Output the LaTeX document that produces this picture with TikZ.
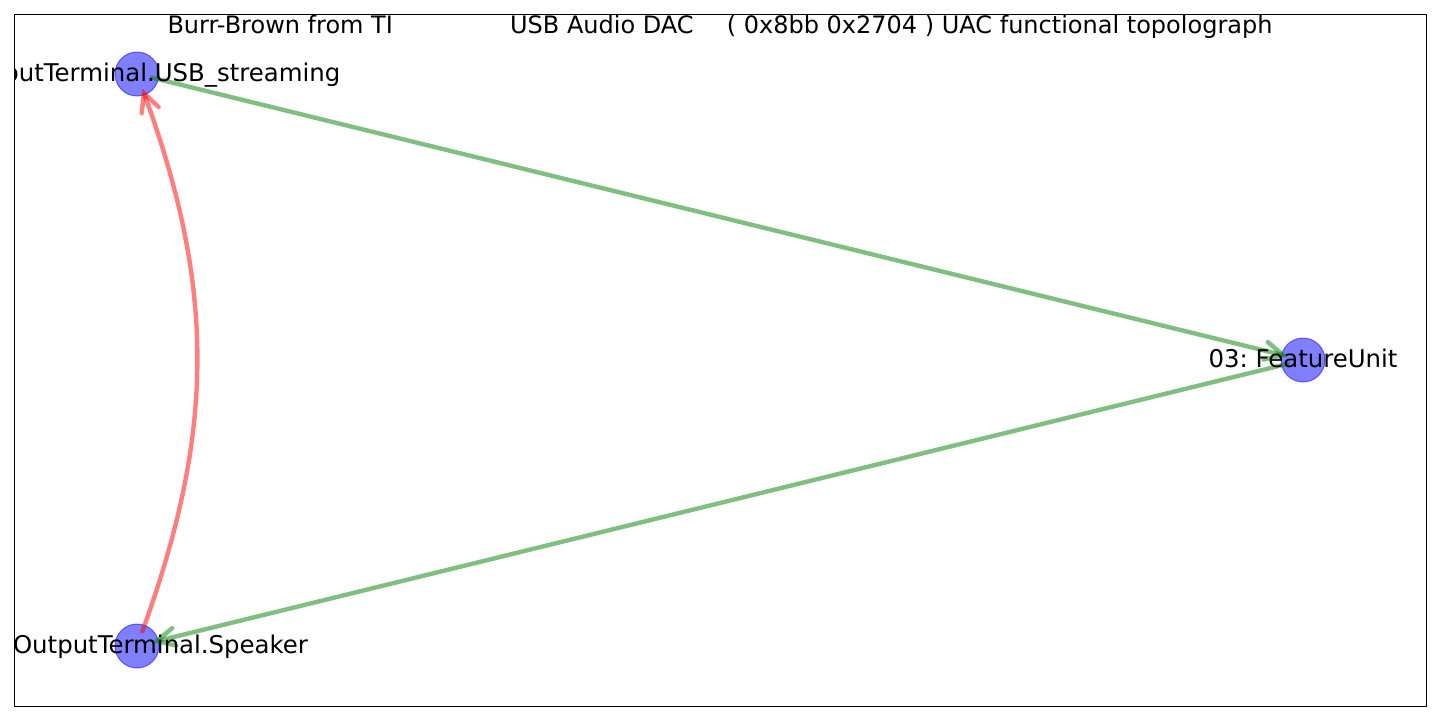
\documentclass[tikz,border=0pt]{standalone}
\usepackage{fontspec}
\setmainfont{DejaVu Sans}
\usetikzlibrary{arrows.meta}
\definecolor{uacblue}{HTML}{0000FF}
\definecolor{uacgreen}{HTML}{008000}
\definecolor{uacred}{HTML}{FF0000}
\frenchspacing
\tikzset{
  unit/.style={circle,minimum size=22pt,inner sep=0pt,fill=uacblue,fill opacity=0.5,draw=uacblue,draw opacity=0.5,line width=0.5pt},
  lbl/.style={font=\fontsize{12.2}{14}\selectfont,text height=0.76em,text depth=0.24em,inner sep=0pt},
  frame/.style={draw=black,line width=0.5pt},
  ar/.style={-{Straight Barb[length=9pt,width=9pt,line cap=round]},line width=2.2pt,draw opacity=0.5,line cap=round,shorten >=-3.5pt,shorten <=-3.5pt},
  flow/.style={ar,draw=uacgreen},
  back/.style={ar,draw=uacred},
}
\begin{document}
\begin{tikzpicture}[x=0.5pt,y=-0.5pt]
  \useasboundingbox (0,0) rectangle (1440,720);
  \draw[frame] (14,14) rectangle (1426,706);
  \node[lbl,font=\fontsize{12}{14}\selectfont] (title) at (720,28) {Burr-Brown from TI\hspace{58.6pt}USB Audio DAC\hspace{16.6pt}( 0x8bb 0x2704 ) UAC functional topolograph};
  \begin{scope}
    \clip (14,14) rectangle (1426,706);
    % units
    \node[unit] (usb) at (137,74) {};
    \node[unit] (fu) at (1303,360) {};
    \node[unit] (spk) at (137,646) {};
    % links
    \draw[flow] (usb) -- (fu);
    \draw[flow] (fu) -- (spk);
    \draw[back] (spk) to[bend right=20] (usb);
    % names
    \node[lbl] (usbname) at ([yshift=-1pt]usb.center) {01: InputTerminal.USB\_streaming};
    \node[lbl] (funame) at ([yshift=-1pt]fu.center) {03: FeatureUnit};
    \node[lbl] (spkname) at ([yshift=-1pt]spk.center) {02: OutputTerminal.Speaker};
  \end{scope}
\end{tikzpicture}
\end{document}
